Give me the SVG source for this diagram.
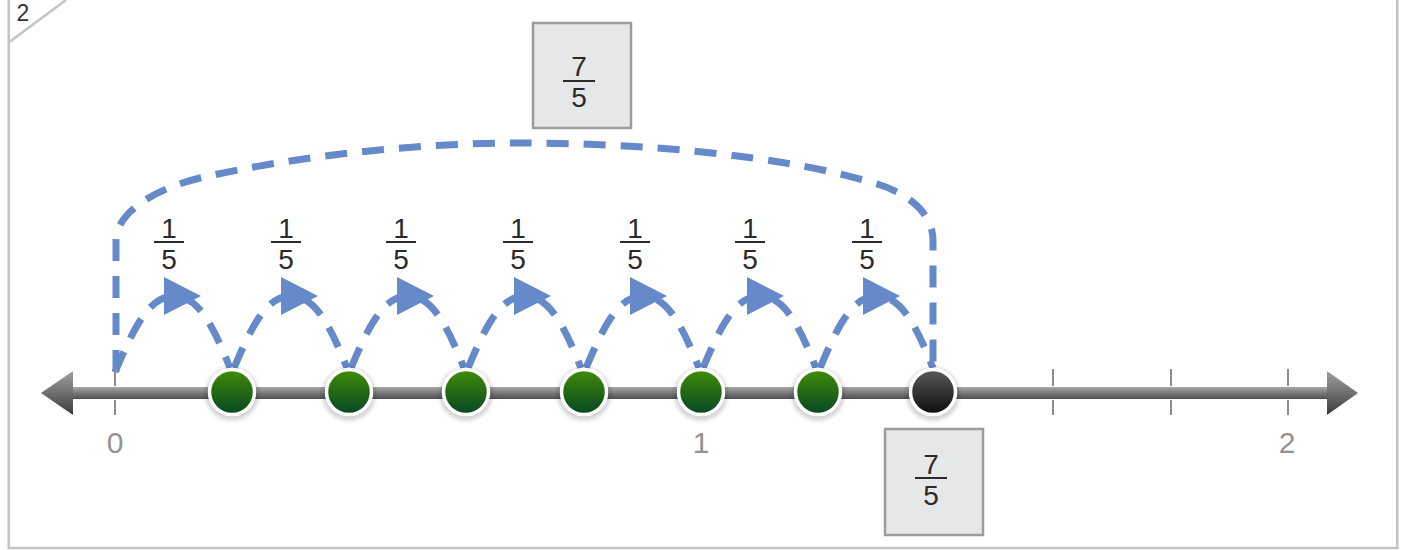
<svg xmlns="http://www.w3.org/2000/svg" width="1404" height="550" viewBox="0 0 1404 550">
<defs>
<linearGradient id="shaftG" x1="0" y1="0" x2="0" y2="1">
<stop offset="0" stop-color="#a8a8a8"/><stop offset="0.5" stop-color="#7a7a7a"/><stop offset="1" stop-color="#505050"/>
</linearGradient>
<linearGradient id="headG" x1="0" y1="0" x2="0" y2="1">
<stop offset="0" stop-color="#a0a0a0"/><stop offset="1" stop-color="#3c3c3c"/>
</linearGradient>
<linearGradient id="greenG" x1="0" y1="0" x2="0" y2="1">
<stop offset="0" stop-color="#418c06"/><stop offset="1" stop-color="#064623"/>
</linearGradient>
<linearGradient id="blackG" x1="0" y1="0" x2="0" y2="1">
<stop offset="0" stop-color="#5a5a5a"/><stop offset="1" stop-color="#0c0c0c"/>
</linearGradient>
<filter id="sh" x="-50%" y="-50%" width="200%" height="200%">
<feGaussianBlur stdDeviation="2"/>
</filter>
<g id="dotShadow"><circle r="26.5" fill="#000" opacity="0.18" filter="url(#sh)"/></g>
</defs>
<style>
.frame{fill:none;stroke:#c3c3c7;stroke-width:2.5}
.dash{fill:none;stroke:#6589c9;stroke-width:7;stroke-dasharray:22 15}
.tri{fill:#6589c9}
.tick{stroke:#8c8c8c;stroke-width:2}
.axl{font-family:"Liberation Sans",Arial,sans-serif;font-size:30px;fill:#929292;text-anchor:middle}
.fr{font-family:"Liberation Sans",Arial,sans-serif;font-size:28px;fill:#2a2a2a;text-anchor:middle}
.bar{stroke:#2a2a2a;stroke-width:2}
.box{fill:#e6e7e9;stroke:#9c9c9c;stroke-width:2.5}
.gdot{fill:url(#greenG);stroke:#fff;stroke-width:3.5}
.kdot{fill:url(#blackG);stroke:#fff;stroke-width:3.5}
</style>
<g id="frame">
<rect class="frame" x="8.7" y="-5" width="1388.6" height="553"/>
<line x1="8" y1="43" x2="66" y2="0" stroke="#c3c3c7" stroke-width="2.5"/>
<text x="23" y="21" font-family="Liberation Sans,Arial,sans-serif" font-size="23" fill="#333" text-anchor="middle">2</text>
</g>
<g id="connectors">
<path class="dash" d="M116,372 L116,240 C116,215 150,190 200,178 C300,155 420,143 520,143 C640,143 780,155 870,182 C910,192 933,215 933,240 L933,370"/>
<path class="dash" d="M115,372 C135,325 150,296 174,296 C198,296 213,325 230,368"/>
<path class="dash" d="M234,368 C252,325 267,296 291,296 C315,296 330,325 347,368"/>
<path class="dash" d="M351,368 C369,325 384,296 408,296 C432,296 447,325 464,368"/>
<path class="dash" d="M468,368 C486,325 501,296 525,296 C549,296 564,325 581,368"/>
<path class="dash" d="M586,368 C604,325 619,296 643,296 C667,296 682,325 699,368"/>
<path class="dash" d="M703,368 C721,325 736,296 760,296 C784,296 799,325 816,368"/>
<path class="dash" d="M820,368 C838,325 853,296 877,296 C901,296 916,325 933,368"/>
<polygon class="tri" points="164,277 201,296 164,315"/>
<polygon class="tri" points="281,277 318,296 281,315"/>
<polygon class="tri" points="397,277 434,296 397,315"/>
<polygon class="tri" points="514,277 551,296 514,315"/>
<polygon class="tri" points="630,277 667,296 630,315"/>
<polygon class="tri" points="747,277 784,296 747,315"/>
<polygon class="tri" points="863,277 900,296 863,315"/>
</g>
<g id="number-line">
<g class="tick">
<line x1="115" y1="369" x2="115" y2="386"/><line x1="115" y1="400" x2="115" y2="415"/>
<line x1="1053" y1="369" x2="1053" y2="386"/><line x1="1053" y1="400" x2="1053" y2="415"/>
<line x1="1171" y1="369" x2="1171" y2="386"/><line x1="1171" y1="400" x2="1171" y2="415"/>
<line x1="1288" y1="369" x2="1288" y2="386"/><line x1="1288" y1="400" x2="1288" y2="415"/>
</g>
<rect x="72" y="387" width="1256" height="12" fill="url(#shaftG)"/>
<polygon points="41,393 73,371 73,415" fill="url(#headG)"/>
<polygon points="1358,393 1327,371 1327,415" fill="url(#headG)"/>
<text class="axl" x="115" y="453">0</text>
<text class="axl" x="701" y="453">1</text>
<text class="axl" x="1287" y="453">2</text>
</g>
<g id="dots">
<use href="#dotShadow" x="232" y="394"/><circle class="gdot" cx="232" cy="392" r="22.5"/>
<use href="#dotShadow" x="349" y="394"/><circle class="gdot" cx="349" cy="392" r="22.5"/>
<use href="#dotShadow" x="466" y="394"/><circle class="gdot" cx="466" cy="392" r="22.5"/>
<use href="#dotShadow" x="584" y="394"/><circle class="gdot" cx="584" cy="392" r="22.5"/>
<use href="#dotShadow" x="701" y="394"/><circle class="gdot" cx="701" cy="392" r="22.5"/>
<use href="#dotShadow" x="818" y="394"/><circle class="gdot" cx="818" cy="392" r="22.5"/>
<use href="#dotShadow" x="933" y="394"/><circle class="kdot" cx="933" cy="392" r="22.5"/>
</g>
<g id="step-labels">
<g><text class="fr" x="169" y="238">1</text><line class="bar" x1="154" y1="242" x2="184" y2="242"/><text class="fr" x="169" y="269">5</text></g>
<g><text class="fr" x="286" y="238">1</text><line class="bar" x1="271" y1="242" x2="301" y2="242"/><text class="fr" x="286" y="269">5</text></g>
<g><text class="fr" x="401" y="238">1</text><line class="bar" x1="386" y1="242" x2="416" y2="242"/><text class="fr" x="401" y="269">5</text></g>
<g><text class="fr" x="518" y="238">1</text><line class="bar" x1="503" y1="242" x2="533" y2="242"/><text class="fr" x="518" y="269">5</text></g>
<g><text class="fr" x="635" y="238">1</text><line class="bar" x1="620" y1="242" x2="650" y2="242"/><text class="fr" x="635" y="269">5</text></g>
<g><text class="fr" x="750" y="238">1</text><line class="bar" x1="735" y1="242" x2="765" y2="242"/><text class="fr" x="750" y="269">5</text></g>
<g><text class="fr" x="867" y="238">1</text><line class="bar" x1="852" y1="242" x2="882" y2="242"/><text class="fr" x="867" y="269">5</text></g>
</g>
<g id="total-box-top">
<rect class="box" x="533" y="23" width="98" height="105"/>
<text class="fr" x="579" y="76">7</text><line class="bar" x1="563" y1="81" x2="595" y2="81"/><text class="fr" x="579" y="107">5</text>
</g>
<g id="total-box-bottom">
<rect class="box" x="885" y="429" width="98" height="106"/>
<text class="fr" x="931" y="474">7</text><line class="bar" x1="915" y1="478" x2="947" y2="478"/><text class="fr" x="931" y="505">5</text>
</g>
</svg>
